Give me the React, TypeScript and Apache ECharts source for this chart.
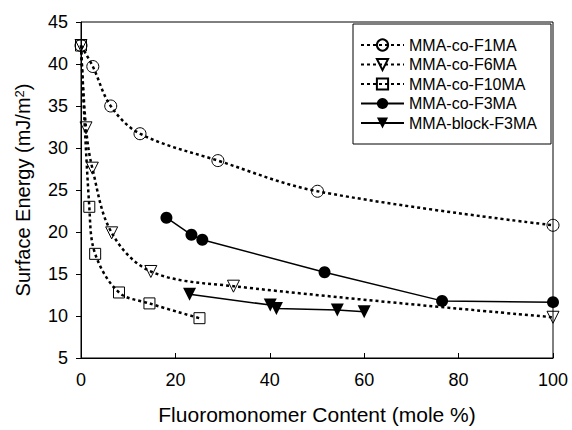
import { useEffect, useRef } from "react";
import * as echarts from "echarts";

const seriesNames = ["MMA-co-F1MA", "MMA-co-F6MA", "MMA-co-F10MA", "MMA-co-F3MA", "MMA-block-F3MA"];

const f1maX = [0, 2.5, 6.3, 12.5, 29.0, 50.1, 100];
const f1maY = [42.2, 39.7, 35.0, 31.7, 28.5, 24.85, 20.8];

const f6maX = [0, 1.06, 2.4, 6.5, 14.8, 32.3, 100];
const f6maY = [42.2, 32.4, 27.6, 19.9, 15.3, 13.55, 9.85];

const f10maX = [0, 1.76, 3.0, 8.05, 14.5, 25.1];
const f10maY = [42.2, 23.0, 17.4, 12.8, 11.5, 9.74];

const f3maX = [18.1, 23.4, 25.7, 51.6, 76.5, 100];
const f3maY = [21.7, 19.67, 19.08, 15.2, 11.8, 11.65];

const blockX = [23.0, 40.1, 41.4, 54.3, 60.0];
const blockY = [12.6, 11.3, 10.9, 10.7, 10.5];

const xTicks = { min: 0, max: 100, interval: 20 };
const yTicks = { min: 5, max: 45, interval: 5 };

const FONT = "'Liberation Sans', Arial, sans-serif";

function pairs(xs: number[], ys: number[]) {
  return xs.map((x, i) => [x, ys[i]]);
}

export default function App() {
  const ref = useRef<HTMLDivElement>(null);
  useEffect(() => {
    if (!ref.current) return;
    const chart = echarts.init(ref.current, undefined, { renderer: "svg" });
    const dotted = { color: "#000", width: 2.5, type: [3, 3] as number[], cap: "butt" as const };
    const solid = { color: "#000", width: 1.5, type: "solid" as const };
    const openItem = { color: "rgba(255,255,255,0)", borderColor: "#000", borderWidth: 1 };
    const filledItem = { color: "#000", borderColor: "#000", borderWidth: 0 };
    const common = { type: "line" as const, clip: false, z: 3 };
    const smoothDotted = { smooth: 0.35 };
    chart.setOption({
      animation: false,
      textStyle: { fontFamily: FONT },
      grid: { left: 81, right: 19, top: 22, bottom: 68, show: true, borderColor: "#000", borderWidth: 1, backgroundColor: "transparent" },
      legend: {
        orient: "vertical",
        left: 353,
        top: 24,
        padding: [13, 14, 13, 7],
        itemWidth: 43,
        itemHeight: 14,
        itemGap: 3.5,
        borderColor: "#000",
        borderWidth: 1,
        backgroundColor: "#fff",
        textStyle: { fontFamily: FONT, fontSize: 16, color: "#000", lineHeight: 14, padding: [0, 0, 0, 0] },
        data: seriesNames,
      },
      xAxis: {
        type: "value",
        min: xTicks.min,
        max: xTicks.max,
        interval: xTicks.interval,
        name: "Fluoromonomer Content (mole %)",
        nameLocation: "middle",
        nameGap: 46,
        nameTextStyle: { fontFamily: FONT, fontSize: 21, color: "#000" },
        axisLine: { lineStyle: { color: "#000", width: 1 } },
        axisTick: { inside: true, length: 5, lineStyle: { color: "#000" } },
        axisLabel: { fontFamily: FONT, fontSize: 18, color: "#000", margin: 13 },
        splitLine: { show: false },
      },
      yAxis: {
        type: "value",
        min: yTicks.min,
        max: yTicks.max,
        interval: yTicks.interval,
        name: "Surface Energy (mJ/m{sup|2})",
        nameLocation: "middle",
        nameGap: 48,
        nameTextStyle: {
          fontFamily: FONT,
          fontSize: 20,
          color: "#000",
          rich: {
            sup: { fontFamily: FONT, fontSize: 13, color: "#000", verticalAlign: "top", lineHeight: 20 },
          },
        },
        axisLine: { show: true, lineStyle: { color: "#000", width: 1 } },
        axisTick: { show: true, inside: false, length: 5, lineStyle: { color: "#000" } },
        axisLabel: { fontFamily: FONT, fontSize: 18, color: "#000", margin: 13 },
        splitLine: { show: false },
      },
      series: [
        {
          ...common,
          ...smoothDotted,
          name: seriesNames[0],
          data: pairs(f1maX, f1maY),
          symbol: "circle",
          symbolSize: 12,
          itemStyle: openItem,
          lineStyle: dotted,
        },
        {
          ...common,
          ...smoothDotted,
          name: seriesNames[1],
          data: pairs(f6maX, f6maY),
          symbol: "triangle",
          symbolRotate: 180,
          symbolSize: 12,
          itemStyle: openItem,
          lineStyle: dotted,
        },
        {
          ...common,
          ...smoothDotted,
          name: seriesNames[2],
          data: pairs(f10maX, f10maY),
          symbol: "rect",
          symbolSize: 11,
          itemStyle: openItem,
          lineStyle: dotted,
        },
        {
          ...common,
          name: seriesNames[3],
          data: pairs(f3maX, f3maY),
          symbol: "circle",
          symbolSize: 12,
          itemStyle: filledItem,
          lineStyle: solid,
        },
        {
          ...common,
          name: seriesNames[4],
          data: pairs(blockX, blockY),
          symbol: "triangle",
          symbolRotate: 180,
          symbolSize: 13,
          itemStyle: filledItem,
          lineStyle: solid,
        },
      ],
    });
    return () => chart.dispose();
  }, []);
  return <div ref={ref} style={{ position: "fixed", left: 0, top: 0, width: 572, height: 430, background: "#fff" }} />;
}
